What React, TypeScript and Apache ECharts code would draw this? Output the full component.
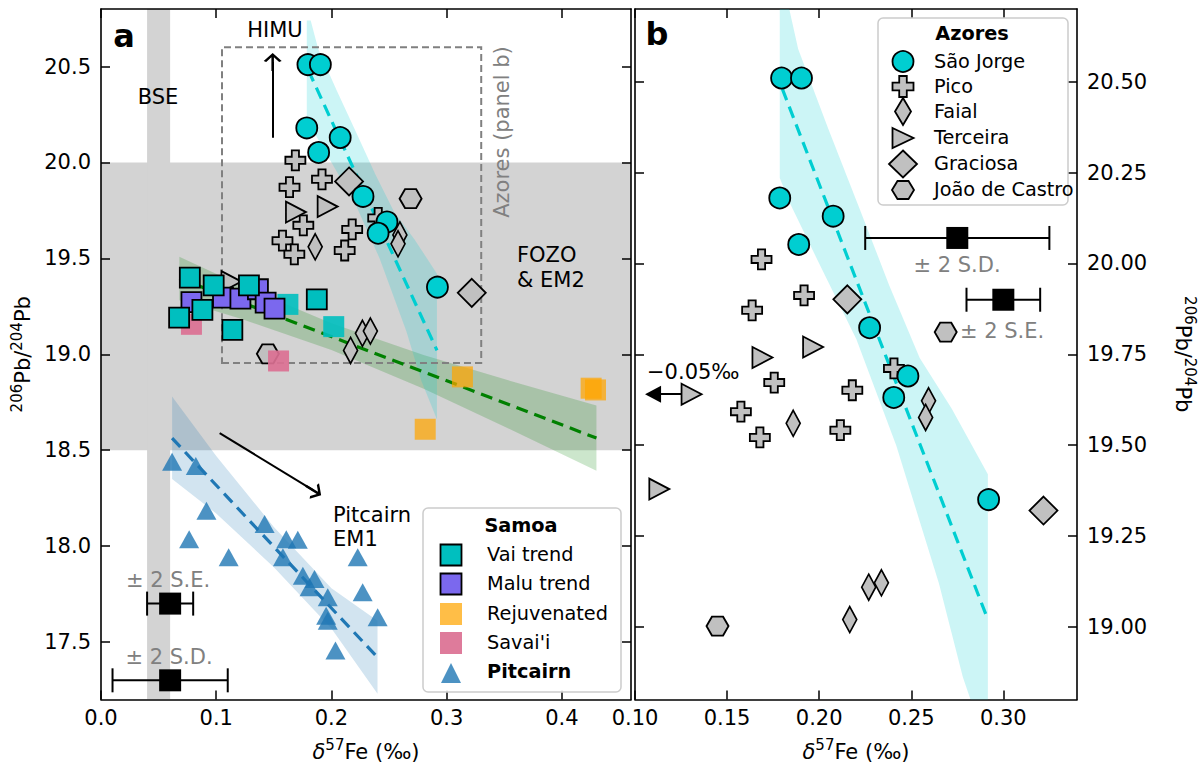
import React, { useEffect, useRef } from "react";
import * as echarts from "echarts";

const F = "DejaVu Sans";

// ---------- axis ranges and ticks ----------
const panelAX = [0, 0.46];
const panelAY = [17.2, 20.8];
const panelBX = [0.1, 0.34];
const panelBY = [18.8, 20.7];
const ticksAX = [0, 0.1, 0.2, 0.3, 0.4];
const ticksAY = [17.5, 18.0, 18.5, 19.0, 19.5, 20.0, 20.5];
const ticksBX = [0.1, 0.15, 0.2, 0.25, 0.3];
const ticksBY = [19.0, 19.25, 19.5, 19.75, 20.0, 20.25, 20.5];

// ---------- Azores ----------
const saoJorge = [[0.1796, 20.51], [0.1904, 20.51], [0.1786, 20.18], [0.2076, 20.13], [0.1889, 20.052], [0.2274, 19.823], [0.2482, 19.69], [0.2405, 19.631], [0.292, 19.35]];
const pico = [[0.1687, 20.011], [0.1918, 19.912], [0.1636, 19.871], [0.2406, 19.711], [0.1756, 19.672], [0.218, 19.651], [0.1575, 19.592], [0.1678, 19.521], [0.2115, 19.541]];
const faial = [[0.1859, 19.56], [0.2594, 19.622], [0.2578, 19.576], [0.2269, 19.109], [0.2338, 19.121], [0.2166, 19.02]];
const terceira = [[0.1967, 19.77], [0.1692, 19.741], [0.1132, 19.379]];
const terceiraOffScale = [[0.1307, 19.64]];
const graciosa = [[0.2153, 19.901], [0.3218, 19.32]];
const joaoDeCastro = [[0.2687, 19.811], [0.1448, 19.002]];

// ---------- Samoa ----------
const vaiTrend = [[0.0771, 19.399], [0.0978, 19.359], [0.1284, 19.359], [0.1873, 19.286], [0.088, 19.231], [0.0678, 19.191], [0.114, 19.127]];
const maluTrend = [[0.0785, 19.272], [0.1059, 19.295], [0.121, 19.29], [0.1362, 19.339], [0.1429, 19.269], [0.1506, 19.238]];
const vaiOther = [[0.1622, 19.26], [0.202, 19.144]];
const rejuvenated = [[0.3137, 18.882], [0.2814, 18.609], [0.4254, 18.823], [0.4292, 18.814]];
const savaii = [[0.0785, 19.156], [0.1541, 18.965]];

// ---------- Pitcairn ----------
const pitcairn = [[0.0617, 18.439], [0.0823, 18.418], [0.0915, 18.184], [0.0765, 18.036], [0.1108, 17.941], [0.142, 18.115], [0.1608, 18.036], [0.1708, 18.033], [0.1579, 17.941], [0.1752, 17.845], [0.1853, 17.828], [0.181, 17.785], [0.1968, 17.733], [0.1954, 17.637], [0.1968, 17.611], [0.2228, 17.941], [0.2271, 17.759], [0.2401, 17.629], [0.2035, 17.455]];

// ---------- regression lines and bands ----------
const cyanFit = [[0.18, 20.48], [0.2916, 19.02]];
const greenFit = [[0.068, 19.395], [0.43, 18.563]];
const blueFit = [[0.0617, 18.5625], [0.24, 17.42]];
const cyanBand = [[0.1786, 20.74], [0.182, 20.74], [0.1886, 20.59], [0.205, 20.37], [0.222, 20.15], [0.238, 19.94], [0.2546, 19.74], [0.272, 19.6], [0.2916, 19.42], [0.2916, 18.66], [0.278, 18.862], [0.265, 19.12], [0.2419, 19.498], [0.2202, 19.791], [0.199, 20.01], [0.184, 20.167], [0.1786, 20.235]];
const greenBand = [[0.068, 19.508], [0.12, 19.364], [0.2, 19.162], [0.28, 18.996], [0.36, 18.853], [0.43, 18.733], [0.43, 18.393], [0.36, 18.595], [0.28, 18.82], [0.2, 19.022], [0.12, 19.188], [0.068, 19.282]];
const blueBand = [[0.0617, 18.78], [0.1, 18.47], [0.15, 18.1], [0.2, 17.78], [0.24, 17.61], [0.24, 17.23], [0.2, 17.57], [0.15, 17.89], [0.1, 18.17], [0.0617, 18.35]];

// ---------- reference fields ----------
const fozoRange = [18.5, 20.0];
const bseRange = [0.04, 0.06];
const azoresBox = [0.105, 0.33, 18.955, 20.6];

// ---------- error bars [x, y, halfwidth] ----------
const errA = [[0.06, 17.7, 0.02], [0.06, 17.3, 0.05]];
const errB = [[0.275, 20.07, 0.05], [0.3, 19.9, 0.02]];

// ---------- arrows ----------
const arrowHimu = [[0.149, 20.129], [0.149, 20.524]];
const arrowPitcairn = [[0.103, 18.589], [0.1844, 18.29]];
const arrowOffScale = [[0.1307, 19.64], [0.1098, 19.64]];
const arrowOffScaleHead = [[0.1098, 19.64]];

// ---------- symbols ----------
const SYM_CROSS = "path://M3.2,0H6.8V3.2H10V6.8H6.8V10H3.2V6.8H0V3.2H3.2Z";
const SYM_TRI_RIGHT = "path://M0,0L10,5L0,10Z";
const SYM_TRI_LEFT = "path://M10,0L0,5L10,10Z";
const SYM_HEX = "path://M0,4.33L2.5,0H7.5L10,4.33L7.5,8.66H2.5Z";
const SYM_OPEN_ARROW = "path://M5,0L10,8L8.6,9L5.7,4.4V18H4.3V4.4L1.4,9L0,8Z";

const C_CYAN = "#00BFBF";
const C_PURPLE = "#7B68EE";
const C_ORANGE = "rgba(255,165,0,0.72)";
const C_PINK = "rgba(219,112,147,0.92)";
const C_TURQ = "#00CED1";
const C_SILVER = "#C0C0C0";
const C_PIT = "rgba(31,119,180,0.8)";

// panel p uses xAxis / yAxis index 2*p
const ax = (p: number) => ({ xAxisIndex: 2 * p, yAxisIndex: 2 * p });

function polySeries(p: number, pts: number[][], fill: string, extra: any = {}) {
  return {
    type: "custom",
    ...ax(p),
    clip: true,
    silent: true,
    data: [pts[0]],
    renderItem: (_p: any, api: any) => ({
      type: "polygon",
      shape: { points: pts.map((q) => api.coord(q)) },
      style: { fill, ...(extra.style || {}) },
    }),
    z: extra.z ?? 1,
  };
}

function rectPts(x0: number, x1: number, y0: number, y1: number) {
  return [[x0, y0], [x1, y0], [x1, y1], [x0, y1]];
}

function lineSeries(p: number, data: number[][], color: string) {
  return {
    type: "line",
    ...ax(p),
    data,
    symbol: "none",
    silent: true,
    lineStyle: { color, width: 3.2, type: [12, 7] },
    z: 2,
  };
}

function scatter(p: number, data: number[][], symbol: string, size: any, color: string, edge: boolean, z = 3) {
  return {
    type: "scatter",
    ...ax(p),
    data,
    symbol,
    symbolSize: size,
    silent: true,
    itemStyle: { color, opacity: 1, borderColor: "#000", borderWidth: edge ? 1.8 : 0 },
    z,
  };
}

function errSeries(p: number, data: number[][]) {
  return [
    {
      type: "custom",
      ...ax(p),
      silent: true,
      data,
      renderItem: (_p: any, api: any) => {
        const x = api.value(0), y = api.value(1), e = api.value(2);
        const p1 = api.coord([x - e, y]);
        const p2 = api.coord([x + e, y]);
        const c = 12;
        const st = { stroke: "#000", lineWidth: 2 };
        return {
          type: "group",
          children: [
            { type: "line", shape: { x1: p1[0], y1: p1[1], x2: p2[0], y2: p2[1] }, style: st },
            { type: "line", shape: { x1: p1[0], y1: p1[1] - c, x2: p1[0], y2: p1[1] + c }, style: st },
            { type: "line", shape: { x1: p2[0], y1: p2[1] - c, x2: p2[0], y2: p2[1] + c }, style: st },
          ],
        };
      },
      z: 4,
    },
    {
      type: "scatter",
      ...ax(p),
      silent: true,
      data: data.map((d) => [d[0], d[1]]),
      symbol: "rect",
      symbolSize: 22,
      itemStyle: { color: "#000", opacity: 1 },
      z: 5,
    },
  ];
}

function arrowSeries(p: number, coords: number[][], sym: string, size: any) {
  return {
    type: "lines",
    coordinateSystem: "cartesian2d",
    ...ax(p),
    silent: true,
    symbol: ["none", sym],
    symbolSize: size,
    lineStyle: { color: "#000", width: 2, opacity: 1, type: "solid" },
    itemStyle: { color: "#000", opacity: 1 },
    data: [{ coords }],
    z: 6,
  };
}

const tickFont = { color: "#000", fontSize: 21, fontFamily: F };
const richName = {
  m: { fontSize: 21, fontFamily: F, color: "#000", lineHeight: 28, verticalAlign: "middle" },
  s: { fontSize: 15, fontFamily: F, color: "#000", verticalAlign: "top" },
  d: { fontSize: 21, fontFamily: F, color: "#000", fontStyle: "italic", lineHeight: 28, verticalAlign: "middle" },
};
const xName = "{d|δ}{s|57}{m|Fe (‰)}";
const yName = "{s|206}{m|Pb/}{s|204}{m|Pb}";

function axis(grid: number, pos: string, range: number[], ticks: number[], labels: boolean, digits: number, extra: any = {}) {
  return {
    type: "value",
    gridIndex: grid,
    position: pos,
    min: range[0],
    max: range[1],
    axisLine: { show: true, onZero: false, lineStyle: { color: "#000", width: 1.6 } },
    axisTick: { show: true, inside: true, length: 9, customValues: ticks, lineStyle: { color: "#000", width: 1.5 } },
    axisLabel: {
      show: labels,
      customValues: ticks,
      formatter: (v: number) => v.toFixed(digits),
      margin: pos === "bottom" ? 8 : 10,
      ...tickFont,
    },
    splitLine: { show: false },
    ...extra,
  };
}

// ---------- graphic helpers (annotations, legends) ----------
function T(x: number, y: number, text: string, o: any = {}) {
  const align = o.align || "center";
  return {
    type: "text",
    x,
    y,
    rotation: o.rot || 0,
    z: 100,
    silent: true,
    style: {
      text,
      fontSize: o.size || 21,
      fontFamily: F,
      fontWeight: o.bold ? "bold" : "normal",
      fill: o.color || "#000",
      textAlign: align,
      textVerticalAlign: "middle",
      align,
      verticalAlign: "middle",
    },
  };
}
const mk = (pts: number[][], fill: string, edge: boolean) => ({
  type: "polygon",
  z: 101,
  silent: true,
  shape: { points: pts },
  style: { fill, stroke: edge ? "#000" : "none", lineWidth: edge ? 1.8 : 0 },
});
const sq = (cx: number, cy: number, s: number) => [[cx - s / 2, cy - s / 2], [cx + s / 2, cy - s / 2], [cx + s / 2, cy + s / 2], [cx - s / 2, cy + s / 2]];
const dia = (cx: number, cy: number, w: number, h: number) => [[cx, cy - h / 2], [cx + w / 2, cy], [cx, cy + h / 2], [cx - w / 2, cy]];
const triUp = (cx: number, cy: number, w: number, h: number) => [[cx, cy - h / 2], [cx + w / 2, cy + h / 2], [cx - w / 2, cy + h / 2]];
const triRight = (cx: number, cy: number, w: number, h: number) => [[cx - w / 2, cy - h / 2], [cx + w / 2, cy], [cx - w / 2, cy + h / 2]];
const hex = (cx: number, cy: number, w: number, h: number) => [[cx - w / 2, cy], [cx - w / 4, cy - h / 2], [cx + w / 4, cy - h / 2], [cx + w / 2, cy], [cx + w / 4, cy + h / 2], [cx - w / 4, cy + h / 2]];
const cross = (cx: number, cy: number, s: number) => {
  const h = s / 2, t = s * 0.18;
  return [[cx - t, cy - h], [cx + t, cy - h], [cx + t, cy - t], [cx + h, cy - t], [cx + h, cy + t], [cx + t, cy + t], [cx + t, cy + h], [cx - t, cy + h], [cx - t, cy + t], [cx - h, cy + t], [cx - h, cy - t], [cx - t, cy - t]];
};

const legendBox = (x: number, y: number, w: number, h: number) => ({
  type: "rect",
  z: 99,
  silent: true,
  shape: { x, y, width: w, height: h, r: 5 },
  style: { fill: "rgba(255,255,255,0.85)", stroke: "#cccccc", lineWidth: 1.5 },
});

const LS = 19.3;
const graphics = [
  T(124, 36, "a", { size: 32, bold: true }),
  T(657, 34, "b", { size: 32, bold: true }),
  T(158, 97, "BSE"),
  T(275, 30, "HIMU"),
  T(502, 132, "Azores (panel b)", { color: "#808080", rot: Math.PI / 2 }),
  T(517, 255, "FOZO", { align: "left" }),
  T(517, 280, "& EM2", { align: "left" }),
  T(333, 515, "Pitcairn", { align: "left" }),
  T(333, 539, "EM1", { align: "left" }),
  T(168, 580, "± 2 S.E.", { color: "#808080" }),
  T(169, 657, "± 2 S.D.", { color: "#808080" }),
  T(957, 265, "± 2 S.D.", { color: "#808080" }),
  T(1002, 331, "± 2 S.E.", { color: "#808080" }),
  T(647, 372, "−0.05‰", { align: "left" }),
  // Samoa legend
  legendBox(423, 508, 198, 184),
  T(521, 525, "Samoa", { bold: true, size: LS }),
  mk(sq(451, 555, 21), C_CYAN, true),
  T(487, 554, "Vai trend", { align: "left", size: LS }),
  mk(sq(451, 584, 21), C_PURPLE, true),
  T(487, 583, "Malu trend", { align: "left", size: LS }),
  mk(sq(451, 614, 22), C_ORANGE, false),
  T(487, 613, "Rejuvenated", { align: "left", size: LS }),
  mk(sq(451, 643, 22), C_PINK, false),
  T(487, 642, "Savai'i", { align: "left", size: LS }),
  mk(triUp(451, 673, 20, 20), C_PIT, false),
  T(487, 671, "Pitcairn", { align: "left", size: LS, bold: true }),
  // Azores legend
  legendBox(878, 18, 190, 187),
  T(972, 33, "Azores", { bold: true, size: LS }),
  { type: "circle", z: 101, silent: true, shape: { cx: 903, cy: 61.5, r: 10.5 }, style: { fill: C_TURQ, stroke: "#000", lineWidth: 1.8 } },
  T(934, 61, "São Jorge", { align: "left", size: LS }),
  mk(cross(903, 86.5, 21), C_SILVER, true),
  T(934, 86, "Pico", { align: "left", size: LS }),
  mk(dia(903, 111.5, 16, 27), C_SILVER, true),
  T(934, 111, "Faial", { align: "left", size: LS }),
  mk(triRight(903, 138, 21, 20), C_SILVER, true),
  T(934, 137, "Terceira", { align: "left", size: LS }),
  mk(dia(903, 164, 28, 27), C_SILVER, true),
  T(934, 163, "Graciosa", { align: "left", size: LS }),
  mk(hex(903, 190, 22, 18), C_SILVER, true),
  T(934, 189, "João de Castro", { align: "left", size: LS }),
];

function azoresSeries(p: number) {
  return [
    scatter(p, pico, SYM_CROSS, 20, C_SILVER, true),
    scatter(p, faial, "diamond", [14, 26], C_SILVER, true),
    scatter(p, terceira, SYM_TRI_RIGHT, [20, 21], C_SILVER, true),
    scatter(p, graciosa, "diamond", [28, 28], C_SILVER, true),
    scatter(p, joaoDeCastro, SYM_HEX, [22, 19], C_SILVER, true),
    scatter(p, saoJorge, "circle", 21, C_TURQ, true),
  ];
}

const option: any = {
  animation: false,
  backgroundColor: "#ffffff",
  grid: [
    { left: 101, top: 9, width: 530, height: 692 },
    { left: 635, top: 9, width: 442, height: 692 },
  ],
  xAxis: [
    axis(0, "bottom", panelAX, ticksAX, true, 1, { name: xName, nameLocation: "middle", nameGap: 38, nameTextStyle: { rich: richName } }),
    axis(0, "top", panelAX, ticksAX, false, 1),
    axis(1, "bottom", panelBX, ticksBX, true, 2, { name: xName, nameLocation: "middle", nameGap: 38, nameTextStyle: { rich: richName } }),
    axis(1, "top", panelBX, ticksBX, false, 2),
  ],
  yAxis: [
    axis(0, "left", panelAY, ticksAY, true, 1, { name: yName, nameLocation: "middle", nameGap: 64, nameRotate: 90, nameTextStyle: { rich: richName } }),
    axis(0, "right", panelAY, ticksAY, false, 1),
    axis(1, "right", panelBY, ticksBY, true, 2, { name: yName, nameLocation: "middle", nameGap: 92, nameRotate: -90, nameTextStyle: { rich: richName } }),
    axis(1, "left", panelBY, ticksBY, false, 2),
  ],
  series: [
    // panel a backgrounds
    polySeries(0, rectPts(panelAX[0], panelAX[1], fozoRange[0], fozoRange[1]), "#d3d3d3", { z: 0 }),
    polySeries(0, rectPts(bseRange[0], bseRange[1], panelAY[0], panelAY[1]), "#d3d3d3", { z: 0 }),
    polySeries(0, greenBand, "rgba(0,128,0,0.2)"),
    polySeries(0, blueBand, "rgba(31,119,180,0.2)"),
    polySeries(0, cyanBand, "rgba(0,206,209,0.2)"),
    polySeries(0, rectPts(azoresBox[0], azoresBox[1], azoresBox[2], azoresBox[3]), "none", {
      style: { stroke: "#808080", lineWidth: 2, lineDash: [7, 4] },
      z: 1,
    }),
    lineSeries(0, greenFit, "#008000"),
    lineSeries(0, blueFit, "#1f77b4"),
    lineSeries(0, cyanFit, C_TURQ),
    scatter(0, pitcairn, "triangle", [20, 18], C_PIT, false),
    ...azoresSeries(0),
    scatter(0, rejuvenated, "rect", 21, C_ORANGE, false),
    scatter(0, savaii, "rect", 21, C_PINK, false),
    scatter(0, vaiOther, "rect", 21, "rgba(0,191,191,0.9)", false),
    scatter(0, maluTrend, "rect", 20, C_PURPLE, true),
    scatter(0, vaiTrend, "rect", 20, C_CYAN, true),
    ...errSeries(0, errA),
    arrowSeries(0, arrowHimu, SYM_OPEN_ARROW, [13, 18]),
    arrowSeries(0, arrowPitcairn, SYM_OPEN_ARROW, [13, 18]),
    // panel b
    polySeries(1, cyanBand, "rgba(0,206,209,0.2)"),
    lineSeries(1, cyanFit, C_TURQ),
    ...azoresSeries(1),
    arrowSeries(1, arrowOffScale, "none", 1),
    scatter(1, arrowOffScaleHead, SYM_TRI_LEFT, [16, 17], "#000", false, 7),
    scatter(1, terceiraOffScale, SYM_TRI_RIGHT, [20, 21], C_SILVER, true, 7),
    ...errSeries(1, errB),
  ],
  graphic: graphics,
};

export default function App() {
  const ref = useRef<HTMLDivElement>(null);
  useEffect(() => {
    const chart = echarts.init(ref.current as HTMLDivElement, null, { renderer: "svg" });
    chart.setOption(option);
    return () => chart.dispose();
  }, []);
  return (
    <div
      ref={ref}
      style={{ position: "fixed", left: 0, top: 0, width: 1198, height: 767, background: "#fff" }}
    />
  );
}
